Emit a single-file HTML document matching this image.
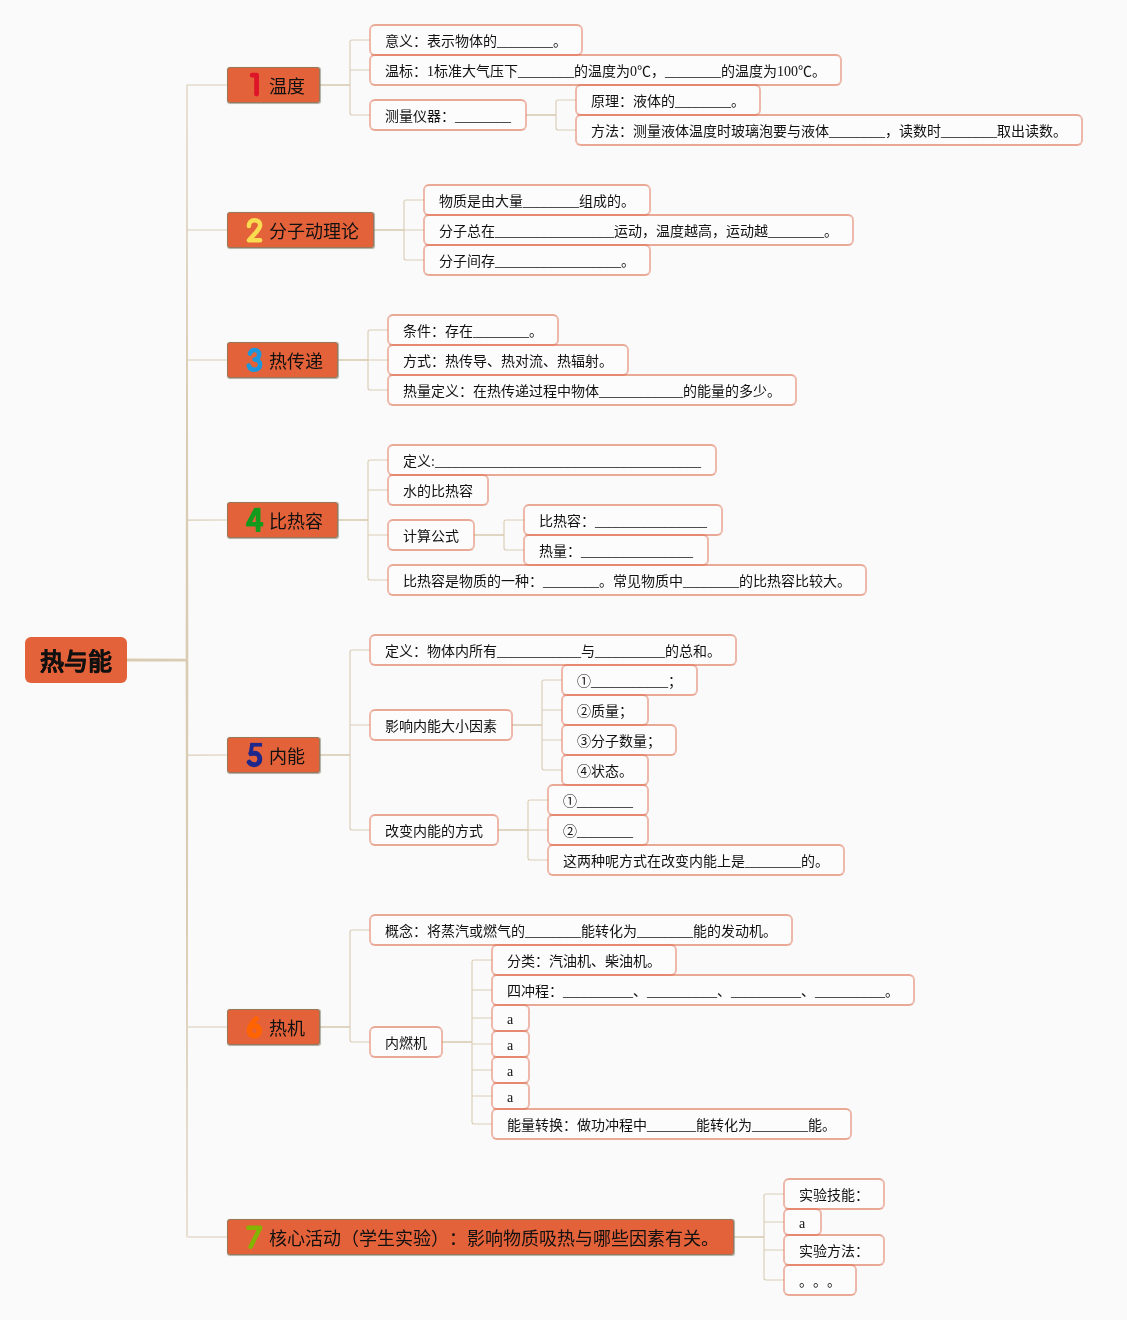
<!DOCTYPE html><html lang="zh-CN"><head><meta charset="utf-8"><style>
html,body{margin:0;padding:0;text-spacing-trim:space-all;font-kerning:none}
body{width:1127px;height:1320px;background:#fafafa;position:relative;overflow:hidden;font-family:"Liberation Serif",sans-serif;}
.s{position:absolute;box-sizing:border-box;background:#fcfcfc;background-clip:padding-box;border:2px solid rgba(224,118,90,0.62);border-left-color:rgba(224,118,90,0.5);border-right-color:rgba(224,118,90,0.5);border-radius:6px;font-size:14px;color:#111;white-space:nowrap;padding:0 14px;display:flex;align-items:center;}
.m{position:absolute;box-sizing:border-box;background:#e4623a;border:1px solid #97785a;border-radius:3px;box-shadow:0.5px 0.5px 0.7px rgba(110,105,85,.5);font-size:18px;color:#111;white-space:nowrap;display:flex;align-items:center;font-family:"Liberation Sans",sans-serif;}
.m span{position:absolute;left:40.7px;top:1.5px;line-height:34px}
.r{position:absolute;left:25px;top:637px;width:102px;height:46px;box-sizing:border-box;background:#e4623a;border-radius:6px;font-size:24px;font-weight:bold;color:#111;text-align:center;line-height:50px;-webkit-text-stroke:0.3px #111;font-family:"Liberation Sans",sans-serif;}
svg{position:absolute;left:0;top:0}
#w{position:absolute;left:0;top:0;width:1127px;height:1320px;will-change:transform;}
</style></head><body><div id="w">
<svg width="1127" height="1320" viewBox="0 0 1127 1320"><path d="M127 658.60L187 658.68L187 661.32L127 661.40ZM185.68 661.32L186.45 84.45L187.55 84.45L188.32 661.32ZM187 84.45L227 84.50L227 85.50L187 85.55ZM127 658.60L187 658.70L187 661.30L127 661.40ZM185.70 661.30L186.43 229.43L187.57 229.43L188.30 661.30ZM187 229.43L227 229.50L227 230.50L187 230.57ZM127 658.60L187 658.74L187 661.26L127 661.40ZM185.74 661.26L186.41 359.41L187.59 359.41L188.26 661.26ZM187 359.41L227 359.50L227 360.50L187 360.59ZM127 658.60L187 658.83L187 661.17L127 661.40ZM185.82 661.17L186.35 519.35L187.65 519.35L188.18 661.17ZM187 519.35L227 519.50L227 520.50L187 520.65ZM127 658.60L187 658.88L187 661.12L127 661.40ZM185.88 658.88L186.32 755.68L187.68 755.68L188.12 658.88ZM187 754.32L227 754.50L227 755.50L187 755.68ZM127 658.60L187 658.72L187 661.28L127 661.40ZM185.72 658.72L186.42 1027.58L187.58 1027.58L188.28 658.72ZM187 1026.42L227 1026.50L227 1027.50L187 1027.58ZM127 658.60L187 658.68L187 661.32L127 661.40ZM185.68 658.68L186.45 1237.55L187.55 1237.55L188.32 658.68ZM187 1236.45L227 1236.50L227 1237.50L187 1237.55Z" fill="#daccb3"/><path d="M320 85H350M526 115H556M374 230H404M338 360H368M338 520H368M474 535H504M320 755H350M512 725H542M498 830H528M320 1027H350M442 1042H472M734 1237H764" fill="none" stroke="#d8c9af" stroke-width="1.6"/><path d="M350 85V42Q350 40 352 40M350 85V113Q350 115 352 115M556 115V102Q556 100 558 100M556 115V128Q556 130 558 130M404 230V202Q404 200 406 200M404 230V258Q404 260 406 260M368 360V332Q368 330 370 330M368 360V388Q368 390 370 390M368 520V462Q368 460 370 460M368 520V578Q368 580 370 580M504 535V522Q504 520 506 520M504 535V548Q504 550 506 550M350 755V652Q350 650 352 650M350 755V828Q350 830 352 830M542 725V682Q542 680 544 680M542 725V768Q542 770 544 770M528 830V802Q528 800 530 800M528 830V858Q528 860 530 860M350 1027V932Q350 930 352 930M350 1027V1040Q350 1042 352 1042M472 1042V962Q472 960 474 960M472 1042V1122Q472 1124 474 1124M764 1237V1196Q764 1194 766 1194M764 1237V1278Q764 1280 766 1280" fill="none" stroke="#d8c9af" stroke-width="1.05"/><path d="M352 40H370M350 70H370M352 115H370M558 100H576M558 130H576M406 200H424M404 230H424M406 260H424M370 330H388M368 360H388M370 390H388M370 460H388M368 490H388M368 535H388M370 580H388M506 520H524M506 550H524M352 650H370M350 725H370M352 830H370M544 680H562M542 710H562M542 740H562M544 770H562M530 800H548M528 830H548M530 860H548M352 930H370M352 1042H370M474 960H492M472 990H492M472 1018H492M472 1044H492M472 1070H492M472 1096H492M474 1124H492M766 1194H784M764 1222H784M764 1250H784M766 1280H784" fill="none" stroke="#d8c9af" stroke-width="0.9"/></svg>
<div class="r">热与能</div>
<div class="m" style="left:227px;top:67px;width:93px;height:36px"><svg width="40" height="36" viewBox="0 0 40 36" style="left:-1px;top:-1px"><path d="M25.2 8.2H29.6V27" fill="none" stroke="#de1428" stroke-width="4.8" stroke-linecap="round" stroke-linejoin="round"/></svg><span>温度</span></div>
<div class="m" style="left:227px;top:212px;width:147px;height:36px"><svg width="40" height="36" viewBox="0 0 40 36" style="left:-1px;top:-1px"><path d="M21.9 14.1C21.9 10.4 24.2 8.15 27.4 8.15C30.7 8.15 33.15 10.2 33.15 13.1C33.15 15.6 31.6 17.4 29.4 19.9L22 28.35H33.15" fill="none" stroke="#fadc50" stroke-width="4.5" stroke-linecap="round" stroke-linejoin="round"/></svg><span>分子动理论</span></div>
<div class="m" style="left:227px;top:342px;width:111px;height:36px"><svg width="40" height="36" viewBox="0 0 40 36" style="left:-1px;top:-1px"><path d="M22.9 11.6C23.6 9.3 25.4 7.95 27.6 7.95C30.3 7.95 32.2 9.8 32.2 12.5C32.2 15.3 30.3 17.3 27.6 17.4C30.8 17.5 33.05 19.5 33.05 22.5C33.05 25.6 30.7 27.75 27.4 27.75C24.4 27.75 22.3 26.1 21.75 23.5" fill="none" stroke="#1e96dc" stroke-width="4.5" stroke-linecap="round" stroke-linejoin="round"/></svg><span>热传递</span></div>
<div class="m" style="left:227px;top:502px;width:111px;height:36px"><svg width="40" height="36" viewBox="0 0 40 36" style="left:-1px;top:-1px"><path d="M27.9 6.75H32.5V20.9H35.3V23.4H32.5V28.9H29.7V23.4H19.95V21.7ZM29.7 8.6V20.9H23.6Z" fill="#149b1e" fill-rule="evenodd" stroke="#149b1e" stroke-width="2" stroke-linejoin="round"/></svg><span>比热容</span></div>
<div class="m" style="left:227px;top:737px;width:93px;height:36px"><svg width="40" height="36" viewBox="0 0 40 36" style="left:-1px;top:-1px"><path d="M25.1 7.75H33.2" fill="none" stroke="#1e288c" stroke-width="3.75" stroke-linecap="square"/><path d="M25.1 7.8L23.6 16.4" fill="none" stroke="#1e288c" stroke-width="3.9" stroke-linecap="round" stroke-linejoin="round"/><path d="M23.9 16.7C25 16.4 26.3 16.3 27.6 16.3C30.6 16.3 32.8 18.6 32.8 21.9C32.8 25.4 30.5 27.7 27.2 27.7C24.9 27.7 23.2 26.8 22.1 25.2" fill="none" stroke="#1e288c" stroke-width="4.9" stroke-linecap="round" stroke-linejoin="round"/></svg><span>内能</span></div>
<div class="m" style="left:227px;top:1009px;width:93px;height:36px"><svg width="40" height="36" viewBox="0 0 40 36" style="left:-1px;top:-1px"><path d="M29.5 9.6C26 12 22.3 17 22.3 21.8" fill="none" stroke="#ff6400" stroke-width="5.0" stroke-linecap="round" stroke-linejoin="round"/><circle cx="27.4" cy="21.8" r="5.0" fill="none" stroke="#ff6400" stroke-width="5.6"/></svg><span>热机</span></div>
<div class="m" style="left:227px;top:1219px;width:507px;height:36px"><svg width="40" height="36" viewBox="0 0 40 36" style="left:-1px;top:-1px"><path d="M21.3 8.7H33.2L23.6 27.7" fill="none" stroke="#82b400" stroke-width="4.4" stroke-linecap="round" stroke-linejoin="round"/></svg><span>核心活动（学生实验）：影响物质吸热与哪些因素有关。</span></div>
<div class="s" style="left:369px;top:24px;height:32px;width:214px">意义：表示物体的________。</div>
<div class="s" style="left:369px;top:54px;height:32px;width:473px">温标：1标准大气压下________的温度为0℃，________的温度为100℃。</div>
<div class="s" style="left:369px;top:99px;height:32px;width:158px">测量仪器：________</div>
<div class="s" style="left:575px;top:84px;height:32px;width:186px">原理：液体的________。</div>
<div class="s" style="left:575px;top:114px;height:32px;width:508px">方法：测量液体温度时玻璃泡要与液体________，读数时________取出读数。</div>
<div class="s" style="left:423px;top:184px;height:32px;width:228px">物质是由大量________组成的。</div>
<div class="s" style="left:423px;top:214px;height:32px;width:431px">分子总在_________________运动，温度越高，运动越________。</div>
<div class="s" style="left:423px;top:244px;height:32px;width:228px">分子间存__________________。</div>
<div class="s" style="left:387px;top:314px;height:32px;width:172px">条件：存在________。</div>
<div class="s" style="left:387px;top:344px;height:32px;width:242px">方式：热传导、热对流、热辐射。</div>
<div class="s" style="left:387px;top:374px;height:32px;width:410px">热量定义：在热传递过程中物体____________的能量的多少。</div>
<div class="s" style="left:387px;top:444px;height:32px;width:330px">定义:______________________________________</div>
<div class="s" style="left:387px;top:474px;height:32px;width:102px">水的比热容</div>
<div class="s" style="left:387px;top:519px;height:32px;width:88px">计算公式</div>
<div class="s" style="left:523px;top:504px;height:32px;width:200px">比热容：________________</div>
<div class="s" style="left:523px;top:534px;height:32px;width:186px">热量：________________</div>
<div class="s" style="left:387px;top:564px;height:32px;width:480px">比热容是物质的一种：________。常见物质中________的比热容比较大。</div>
<div class="s" style="left:369px;top:634px;height:32px;width:368px">定义：物体内所有____________与__________的总和。</div>
<div class="s" style="left:369px;top:709px;height:32px;width:144px">影响内能大小因素</div>
<div class="s" style="left:561px;top:664px;height:32px;width:137px">①___________；</div>
<div class="s" style="left:561px;top:694px;height:32px;width:88px">②质量；</div>
<div class="s" style="left:561px;top:724px;height:32px;width:116px">③分子数量；</div>
<div class="s" style="left:561px;top:754px;height:32px;width:88px">④状态。</div>
<div class="s" style="left:369px;top:814px;height:32px;width:130px">改变内能的方式</div>
<div class="s" style="left:547px;top:784px;height:32px;width:102px">①________</div>
<div class="s" style="left:547px;top:814px;height:32px;width:102px">②________</div>
<div class="s" style="left:547px;top:844px;height:32px;width:298px">这两种呢方式在改变内能上是________的。</div>
<div class="s" style="left:369px;top:914px;height:32px;width:424px">概念：将蒸汽或燃气的________能转化为________能的发动机。</div>
<div class="s" style="left:369px;top:1026px;height:32px;width:74px">内燃机</div>
<div class="s" style="left:491px;top:944px;height:32px;width:186px">分类：汽油机、柴油机。</div>
<div class="s" style="left:491px;top:974px;height:32px;width:424px">四冲程：__________、__________、__________、__________。</div>
<div class="s" style="left:491px;top:1004px;height:28px;width:39px;padding-top:3px">a</div>
<div class="s" style="left:491px;top:1030px;height:28px;width:39px;padding-top:3px">a</div>
<div class="s" style="left:491px;top:1056px;height:28px;width:39px;padding-top:3px">a</div>
<div class="s" style="left:491px;top:1082px;height:28px;width:39px;padding-top:3px">a</div>
<div class="s" style="left:491px;top:1108px;height:32px;width:361px">能量转换：做功冲程中_______能转化为________能。</div>
<div class="s" style="left:783px;top:1178px;height:32px;width:102px">实验技能：</div>
<div class="s" style="left:783px;top:1208px;height:28px;width:39px;padding-top:3px">a</div>
<div class="s" style="left:783px;top:1234px;height:32px;width:102px">实验方法：</div>
<div class="s" style="left:783px;top:1264px;height:32px;width:74px">。。。</div>
</div></body></html>
